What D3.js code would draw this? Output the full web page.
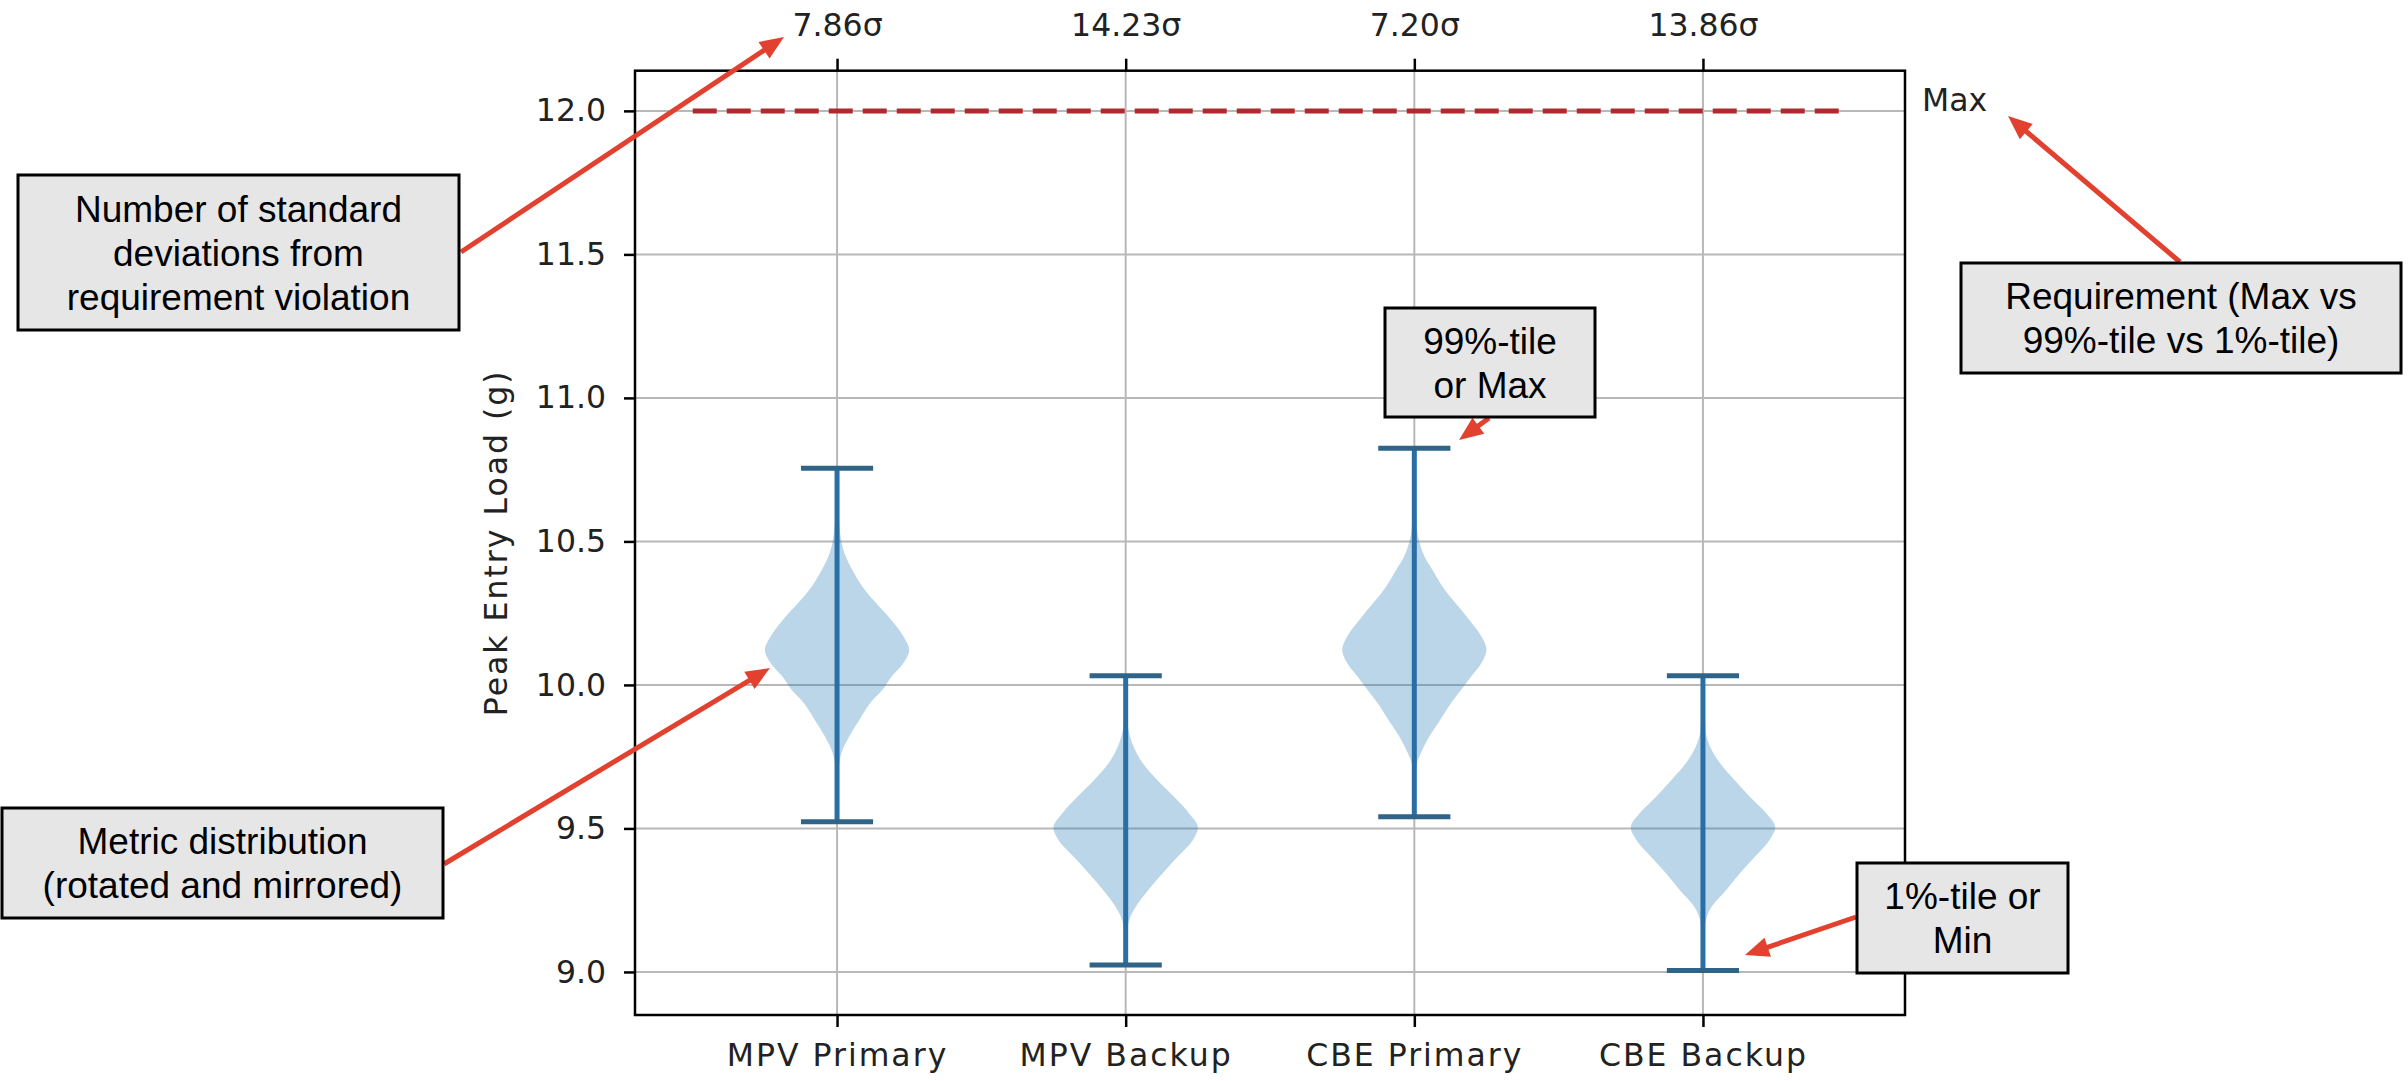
<!DOCTYPE html>
<html lang="en">
<script src='https://d3js.org/d3.v7.min.js'></script>
<style>
  body { margin: 0; background: white; }
  .note { font-family: 'Liberation Sans', Arial, sans-serif; font-size: 37px; fill: black; }
</style>
<body>
<svg width=2408 height=1081></svg>
<script>

    // categories + the values
    const categories = ["MPV Primary", "MPV Backup", "CBE Primary", "CBE Backup"];
    const sigmaLabels = ["7.86σ", "14.23σ", "7.20σ", "13.86σ"];
    const upperVals = [10.755, 10.032, 10.825, 10.032];   // 99%-tile or max
    const lowerVals = [9.523, 9.024, 9.541, 9.005];       // 1%-tile or min
    const requirement = 12.0;
    const yTicks = [9.0, 9.5, 10.0, 10.5, 11.0, 11.5, 12.0];

    // violin outlines: [value, relative half width]
    const mpvPrimaryShape = [[10.755,0],[10.62,0.015],[10.50,0.06],[10.448,0.12],[10.401,0.21],[10.343,0.35],
        [10.285,0.54],[10.227,0.75],[10.169,0.92],[10.123,1.0],[10.076,0.92],[10.030,0.76],[9.983,0.63],
        [9.937,0.46],[9.879,0.31],[9.821,0.17],[9.762,0.06],[9.70,0.02],[9.60,0.008],[9.523,0]];
    const mpvBackupShape = [[10.032,0],[9.92,0.01],[9.86,0.03],[9.831,0.05],[9.785,0.11],[9.726,0.24],
        [9.668,0.44],[9.610,0.67],[9.552,0.88],[9.506,1.0],[9.459,0.93],[9.401,0.72],[9.343,0.51],
        [9.285,0.31],[9.227,0.14],[9.181,0.05],[9.12,0.015],[9.024,0]];
    const cbePrimaryShape = [[10.825,0],[10.65,0.015],[10.52,0.05],[10.448,0.14],[10.401,0.25],[10.343,0.39],
        [10.285,0.57],[10.227,0.76],[10.169,0.93],[10.123,1.0],[10.076,0.93],[10.030,0.79],[9.983,0.65],
        [9.937,0.51],[9.879,0.36],[9.821,0.21],[9.762,0.09],[9.73,0.04],[9.65,0.012],[9.541,0]];
    const cbeBackupShape = [[10.032,0],[9.92,0.01],[9.86,0.03],[9.831,0.04],[9.785,0.10],[9.726,0.24],
        [9.668,0.44],[9.610,0.65],[9.552,0.88],[9.506,1.0],[9.459,0.92],[9.401,0.72],[9.343,0.51],
        [9.285,0.32],[9.227,0.12],[9.181,0.04],[9.12,0.015],[9.005,0]];
    const shapes = [mpvPrimaryShape, mpvBackupShape, cbePrimaryShape, cbeBackupShape];

    // scales (violins sit at 1..4 like matplotlib)
    var x = d3.scaleLinear().domain([0.3, 4.7]).range([635, 1905]);
    var y = d3.scaleLinear().domain([8.85, 12.14]).range([1015, 70.7]);
    var halfWidth = 0.25;
    var positions = categories.map((c, i) => i + 1);

    var svg = d3.select("svg");
    svg.append("rect").attr("width", 2408).attr("height", 1081).attr("fill", "white");

    //grid
    var grid = svg.append("g").attr("stroke", "#b8b8b8").attr("stroke-width", 2);
    grid.selectAll("line.h").data(yTicks).enter().append("line")
        .attr("x1", x(0.3)).attr("x2", x(4.7))
        .attr("y1", d => y(d)).attr("y2", d => y(d));
    grid.selectAll("line.v").data(positions).enter().append("line")
        .attr("y1", y(8.85)).attr("y2", y(12.14))
        .attr("x1", d => x(d)).attr("x2", d => x(d));

    // requirement line
    svg.append("line")
        .attr("x1", x(0.5)).attr("x2", x(4.5))
        .attr("y1", y(requirement)).attr("y2", y(requirement))
        .attr("stroke", "#ad2a2e").attr("stroke-width", 5)
        .attr("stroke-dasharray", "24,10");

    // violin bodies
    shapes.forEach(function (shape, i) {
        var p = positions[i];
        var area = d3.area().curve(d3.curveCatmullRom)
            .y(d => y(d[0]))
            .x0(d => x(p - d[1] * halfWidth))
            .x1(d => x(p + d[1] * halfWidth));
        svg.append("path").attr("d", area(shape))
            .attr("fill", "#1f77b4").attr("fill-opacity", 0.3);
    });

    // vertical lines and caps
    var lines = svg.append("g");
    lines.selectAll("line.bar").data(positions).enter().append("line")
        .attr("x1", d => x(d)).attr("x2", d => x(d))
        .attr("y1", (d, i) => y(upperVals[i])).attr("y2", (d, i) => y(lowerVals[i]))
        .attr("stroke", "#2a6ea6").attr("stroke-width", 5);
    [upperVals, lowerVals].forEach(function (vals) {
        lines.append("g").selectAll("line").data(positions).enter().append("line")
            .attr("x1", d => x(d - halfWidth / 2)).attr("x2", d => x(d + halfWidth / 2))
            .attr("y1", (d, i) => y(vals[i])).attr("y2", (d, i) => y(vals[i]))
            .attr("stroke", "#2f6388").attr("stroke-width", 5);
    });

    //axes
    function styleAxis(g) {
        g.select(".domain").remove();
        g.attr("font-family", "DejaVu Sans").attr("font-size", 31.5);
        g.selectAll(".tick line").attr("stroke", "black").attr("stroke-width", 2.5);
        g.selectAll(".tick text").attr("fill", "#222");
    }
    svg.append("g").attr("transform", "translate(" + x(0.3) + ",0)")
        .call(d3.axisLeft(y).tickValues(yTicks).tickFormat(d3.format(".1f")).tickSize(11).tickPadding(18))
        .call(styleAxis);
    svg.append("g").attr("transform", "translate(0," + y(8.85) + ")")
        .call(d3.axisBottom(x).tickValues(positions).tickFormat((d, i) => categories[i]).tickSize(12).tickPadding(17))
        .call(styleAxis)
        .selectAll(".tick text").attr("letter-spacing", 2);
    svg.append("g").attr("transform", "translate(0," + y(12.14) + ")")
        .call(d3.axisTop(x).tickValues(positions).tickFormat((d, i) => sigmaLabels[i]).tickSize(12).tickPadding(23))
        .call(styleAxis);

    // frame
    svg.append("rect")
        .attr("x", x(0.3)).attr("y", y(12.14))
        .attr("width", x(4.7) - x(0.3)).attr("height", y(8.85) - y(12.14))
        .attr("fill", "none").attr("stroke", "black").attr("stroke-width", 2.5);

    svg.append("text")
        .attr("transform", "translate(507," + ((y(8.85) + y(12.14)) / 2) + ") rotate(-90)")
        .attr("text-anchor", "middle").attr("letter-spacing", 2)
        .attr("font-family", "DejaVu Sans").attr("font-size", 31.5).attr("fill", "#222")
        .text("Peak Entry Load (g)");

    svg.append("text")
        .attr("x", x(4.7) + 17).attr("y", y(requirement))
        .attr("font-family", "DejaVu Sans").attr("font-size", 31.5).attr("fill", "#222")
        .text("Max");

    // callouts (slide style boxes + red arrows)
    const notes = [
        {box: [18, 175, 441, 155], lines: ["Number of standard", "deviations from", "requirement violation"], from: [461, 252], to: [784, 37]},
        {box: [2, 808, 441, 110], lines: ["Metric distribution", "(rotated and mirrored)"], from: [444, 864], to: [770, 668]},
        {box: [1385, 308, 210, 109], lines: ["99%-tile", "or Max"], from: [1489, 418], to: [1459, 440]},
        {box: [1961, 263, 440, 110], lines: ["Requirement (Max vs", "99%-tile vs 1%-tile)"], from: [2180, 262], to: [2008, 116]},
        {box: [1857, 863, 211, 110], lines: ["1%-tile or", "Min"], from: [1856, 917], to: [1745, 955]}
    ];

    var headLen = 24, headHalf = 10;
    notes.forEach(function (n) {
        var dx = n.to[0] - n.from[0], dy = n.to[1] - n.from[1];
        var len = Math.sqrt(dx * dx + dy * dy);
        var ux = dx / len, uy = dy / len;
        var bx = n.to[0] - ux * headLen, by = n.to[1] - uy * headLen;
        svg.append("line")
            .attr("x1", n.from[0]).attr("y1", n.from[1]).attr("x2", bx + ux * 2).attr("y2", by + uy * 2)
            .attr("stroke", "#e2412f").attr("stroke-width", 5);
        svg.append("polygon")
            .attr("points", [n.to, [bx - uy * headHalf, by + ux * headHalf], [bx + uy * headHalf, by - ux * headHalf]].join(" "))
            .attr("fill", "#e2412f");
    });

    notes.forEach(function (n) {
        var b = n.box;
        svg.append("rect").attr("x", b[0]).attr("y", b[1]).attr("width", b[2]).attr("height", b[3])
            .attr("fill", "#e6e6e6").attr("stroke", "black").attr("stroke-width", 3);
        var cy = b[1] + b[3] / 2, step = 44;
        var top = cy - (n.lines.length - 1) * step / 2 + 13;
        n.lines.forEach(function (t, k) {
            svg.append("text").attr("class", "note")
                .attr("x", b[0] + b[2] / 2).attr("y", top + k * step)
                .attr("text-anchor", "middle").text(t);
        });
    });

</script>
</body>
</html>
